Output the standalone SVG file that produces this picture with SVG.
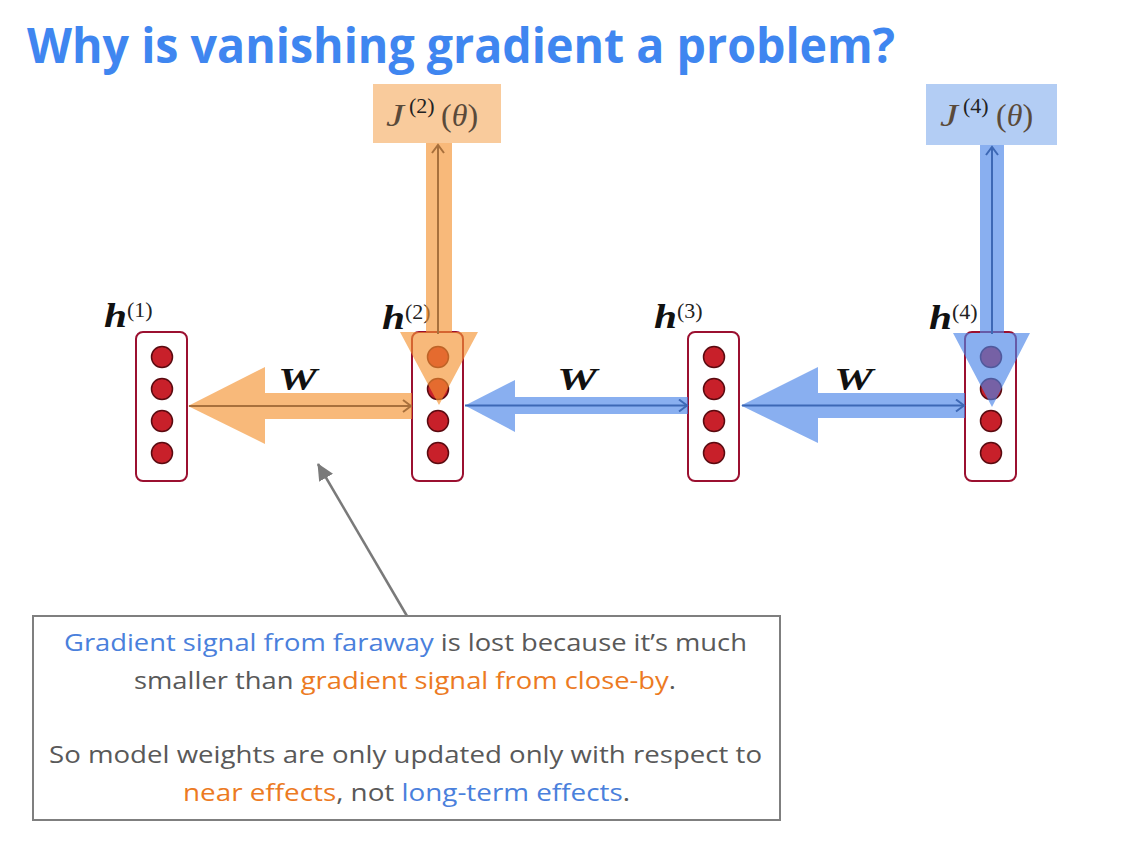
<svg xmlns="http://www.w3.org/2000/svg" width="1142" height="856" viewBox="0 0 1142 856">
<style>
.title{font-family:"Open Sans","Liberation Sans",sans-serif;font-weight:bold;font-size:48px;fill:#3f86f0}
.box{fill:#fff;stroke:#9b1030;stroke-width:2}
.dot{fill:#c8202a;stroke:#5a0a10;stroke-width:1.5}
.hb{font-family:"Liberation Serif","DejaVu Serif",serif;font-weight:bold;font-style:italic;font-size:33px;fill:#111}
.sup{font-family:"Liberation Serif","DejaVu Serif",serif;font-size:22px;fill:#222}
.math{font-family:"Liberation Serif","DejaVu Serif",serif;font-size:32px;fill:#5a4a3a}
.it{font-style:italic}
.wl{font-family:"Liberation Serif","DejaVu Serif",serif;font-weight:bold;font-style:italic;font-size:32px;fill:#111}
.orange{fill:#f59332;fill-opacity:0.65}
.blue{fill:#4a84e8;fill-opacity:0.65}
.othin{stroke:#a8703c;stroke-width:2;fill:none}
.bthin{stroke:#3d68b5;stroke-width:2;fill:none}
.body{font-family:"Open Sans","Liberation Sans",sans-serif;font-size:24px;fill:#595959}
.tb{fill:#4a80dc}
.to{fill:#ec7a22}
</style>
<defs>
<marker id="ochev" markerUnits="userSpaceOnUse" markerWidth="14" markerHeight="14" refX="11" refY="7" orient="auto">
<path d="M3,1 L11,7 L3,13" fill="none" stroke="#a8703c" stroke-width="2"/>
</marker>
<marker id="bchev" markerUnits="userSpaceOnUse" markerWidth="14" markerHeight="14" refX="11" refY="7" orient="auto">
<path d="M3,1 L11,7 L3,13" fill="none" stroke="#3d68b5" stroke-width="2"/>
</marker>
<marker id="gtip" markerUnits="userSpaceOnUse" markerWidth="20" markerHeight="20" refX="16" refY="8" orient="auto">
<path d="M0,0 L17,8 L0,16 Z" fill="#7a7a7a"/>
</marker>
</defs>
<rect width="1142" height="856" fill="#fff"/>
<text class="title" x="27" y="63" textLength="868" lengthAdjust="spacingAndGlyphs">Why is vanishing gradient a problem?</text>

<g id="J2">
<rect x="373" y="84" width="128" height="59" fill="#f9cb9c"/>
<text class="math it" x="386" y="126" textLength="18" lengthAdjust="spacingAndGlyphs">J</text>
<text class="sup" x="409" y="113" fill="#5a4a3a">(2)</text>
<text class="math" x="441" y="126">(<tspan class="it">θ</tspan>)</text>
</g>
<g id="J4">
<rect x="926" y="84" width="131" height="61" fill="#b3cdf4"/>
<text class="math it" x="940" y="126" textLength="18" lengthAdjust="spacingAndGlyphs">J</text>
<text class="sup" x="963" y="113">(4)</text>
<text class="math" x="996" y="126">(<tspan class="it">θ</tspan>)</text>
</g>

<g id="h1">
<rect class="box" x="136" y="332" width="51" height="149" rx="7"/>
<circle class="dot" cx="162" cy="357" r="10.5"/><circle class="dot" cx="162" cy="389" r="10.5"/><circle class="dot" cx="162" cy="421" r="10.5"/><circle class="dot" cx="162" cy="453" r="10.5"/>
<text class="hb" x="104" y="327" textLength="23" lengthAdjust="spacingAndGlyphs">h</text><text class="sup" x="127" y="317">(1)</text>
</g>
<g id="h2">
<rect class="box" x="412" y="332" width="51" height="149" rx="7"/>
<circle class="dot" cx="438" cy="357" r="10.5"/><circle class="dot" cx="438" cy="389" r="10.5"/><circle class="dot" cx="438" cy="421" r="10.5"/><circle class="dot" cx="438" cy="453" r="10.5"/>
<text class="hb" x="382" y="329" textLength="23" lengthAdjust="spacingAndGlyphs">h</text><text class="sup" x="405" y="319">(2)</text>
</g>
<g id="h3">
<rect class="box" x="688" y="332" width="51" height="149" rx="7"/>
<circle class="dot" cx="714" cy="357" r="10.5"/><circle class="dot" cx="714" cy="389" r="10.5"/><circle class="dot" cx="714" cy="421" r="10.5"/><circle class="dot" cx="714" cy="453" r="10.5"/>
<text class="hb" x="654" y="328" textLength="23" lengthAdjust="spacingAndGlyphs">h</text><text class="sup" x="677" y="318">(3)</text>
</g>
<g id="h4">
<rect class="box" x="965" y="332" width="51" height="149" rx="7"/>
<circle class="dot" cx="991" cy="357" r="10.5"/><circle class="dot" cx="991" cy="389" r="10.5"/><circle class="dot" cx="991" cy="421" r="10.5"/><circle class="dot" cx="991" cy="453" r="10.5"/>
<text class="hb" x="929" y="329" textLength="23" lengthAdjust="spacingAndGlyphs">h</text><text class="sup" x="952" y="319">(4)</text>
</g>

<g id="connectors">
<path class="orange" d="M426,143 H452 V332 H478 L439,405 L400,332 H426 Z"/>
<line class="othin" x1="438" y1="334" x2="438" y2="145" marker-end="url(#ochev)"/>
<path class="blue" d="M980,145 H1004 V333 H1030 L992,407 L953,333 H980 Z"/>
<line class="bthin" x1="992" y1="334" x2="992" y2="147" marker-end="url(#bchev)"/>
<path class="orange" d="M412,393 H265 V367 L188,406 L265,444 V419 H412 Z"/>
<line class="othin" x1="189" y1="406" x2="411" y2="406" marker-end="url(#ochev)"/>
<text class="wl" x="278" y="390" textLength="39" lengthAdjust="spacingAndGlyphs">W</text>
<path class="blue" d="M688,397 H515 V380 L465,405.5 L515,432 V414 H688 Z"/>
<line class="bthin" x1="465" y1="405.5" x2="687" y2="405.5" marker-end="url(#bchev)"/>
<text class="wl" x="557" y="390" textLength="40" lengthAdjust="spacingAndGlyphs">W</text>
<path class="blue" d="M965,393 H818 V367 L741,405.5 L818,443 V418 H965 Z"/>
<line class="bthin" x1="742" y1="405.5" x2="964" y2="405.5" marker-end="url(#bchev)"/>
<text class="wl" x="834" y="390" textLength="39" lengthAdjust="spacingAndGlyphs">W</text>
<line x1="407" y1="616" x2="318" y2="464" stroke="#7a7a7a" stroke-width="2.5" marker-end="url(#gtip)"/>
</g>

<g id="note">
<rect x="33" y="616" width="747" height="204" fill="#fff" stroke="#7f7f7f" stroke-width="2"/>
<text class="body" x="64" y="651" textLength="683" lengthAdjust="spacingAndGlyphs"><tspan class="tb">Gradient signal from faraway</tspan> is lost because it’s much</text>
<text class="body" x="134" y="689" textLength="542" lengthAdjust="spacingAndGlyphs">smaller than <tspan class="to">gradient signal from close-by</tspan>.</text>
<text class="body" x="49" y="763" textLength="713" lengthAdjust="spacingAndGlyphs">So model weights are only updated only with respect to</text>
<text class="body" x="183" y="801" textLength="447" lengthAdjust="spacingAndGlyphs"><tspan class="to">near effects</tspan>, not <tspan class="tb">long-term effects</tspan>.</text>
</g>
</svg>
